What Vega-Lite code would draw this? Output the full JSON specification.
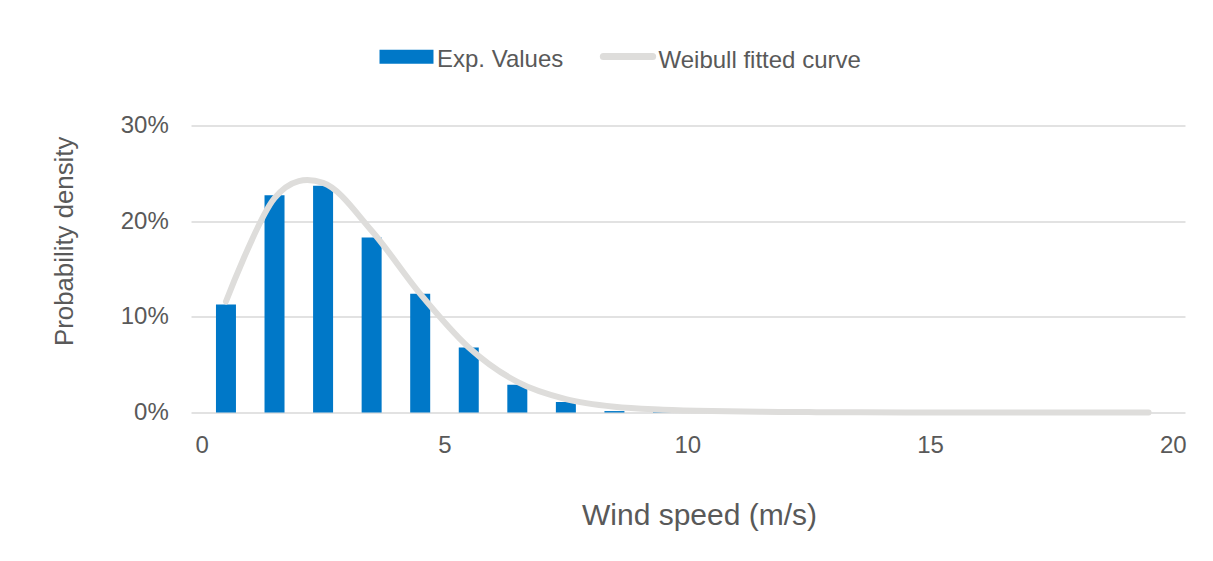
{
  "$schema": "https://vega.github.io/schema/vega-lite/v6.json",
  "width": 994,
  "height": 287,
  "autosize": {"type": "none"},
  "padding": {"left": 191, "top": 125.5, "right": 28, "bottom": 148.5},
  "background": "white",
  "config": {
    "font": "Liberation Sans",
    "view": {"stroke": null},
    "axis": {
      "labelFont": "Liberation Sans",
      "titleFont": "Liberation Sans",
      "labelColor": "#595959",
      "titleColor": "#595959",
      "labelFontSize": 24,
      "titleFontSize": 26.7,
      "titleFontWeight": "normal",
      "domain": false,
      "ticks": false
    },
    "legend": {
      "labelFont": "Liberation Sans",
      "labelFontSize": 24,
      "labelColor": "#595959",
      "labelLimit": 0
    }
  },
  "data": {
    "values": [
      {"speed": 0.5, "exp": 0.113, "weibull": 0.116},
      {"speed": 1.5, "exp": 0.227, "weibull": 0.224},
      {"speed": 2.5, "exp": 0.237, "weibull": 0.240},
      {"speed": 3.5, "exp": 0.183, "weibull": 0.190},
      {"speed": 4.5, "exp": 0.124, "weibull": 0.124},
      {"speed": 5.5, "exp": 0.068, "weibull": 0.068},
      {"speed": 6.5, "exp": 0.029, "weibull": 0.032},
      {"speed": 7.5, "exp": 0.011, "weibull": 0.014},
      {"speed": 8.5, "exp": 0.0015, "weibull": 0.006},
      {"speed": 9.5, "exp": 0.0005, "weibull": 0.003},
      {"speed": 10.5, "exp": 0.0015, "weibull": 0.0015},
      {"speed": 11.5, "exp": 0.0, "weibull": 0.0008},
      {"speed": 12.5, "exp": 0.0, "weibull": 0.0004},
      {"speed": 13.5, "exp": 0.0, "weibull": 0.0002},
      {"speed": 14.5, "exp": 0.0, "weibull": 0.0001},
      {"speed": 15.5, "exp": 0.0, "weibull": 0.0},
      {"speed": 16.5, "exp": 0.0, "weibull": 0.0},
      {"speed": 17.5, "exp": 0.0, "weibull": 0.0},
      {"speed": 18.5, "exp": 0.0, "weibull": 0.0},
      {"speed": 19.5, "exp": 0.0, "weibull": 0.0}
    ]
  },
  "encoding": {
    "x": {
      "field": "speed",
      "type": "quantitative",
      "scale": {"domain": [-0.22, 20.25], "nice": false, "zero": false, "padding": 0},
      "axis": {
        "values": [0, 5, 10, 15, 20],
        "grid": false,
        "labelPadding": 21,
        "title": "Wind speed (m/s)",
        "titleFontSize": 30,
        "titleX": 508,
        "titleY": 112,
        "titleBaseline": "alphabetic",
        "titleAnchor": null
      }
    }
  },
  "layer": [
    {
      "mark": {"type": "bar", "size": 20, "color": "#0078c8"},
      "encoding": {
        "y": {
          "field": "exp",
          "type": "quantitative",
          "scale": {"domain": [0, 0.3], "nice": false},
          "axis": {
            "values": [0, 0.1, 0.2, 0.3],
            "format": ".0%",
            "grid": true,
            "gridColor": "#d9d9d9",
            "gridWidth": 1.6,
            "labelPadding": 22.7,
            "title": "Probability density",
            "titleFontSize": 25.8,
            "titleAngle": -90,
            "titleX": -118.5,
            "titleY": 115.3,
            "titleBaseline": "alphabetic",
            "titleAlign": "center"
          }
        },
        "color": {
          "datum": "Exp. Values",
          "type": "nominal",
          "scale": {"domain": ["Exp. Values", "Weibull fitted curve"], "range": ["#0078c8", "#dedddb"]},
          "legend": {
            "title": null,
            "orient": "none",
            "direction": "horizontal",
            "legendX": 183,
            "legendY": -98,
            "padding": 0,
            "symbolSize": 3364,
            "labelOffset": -2,
            "columnPadding": 24.5,
            "encode": {
              "symbols": {
                "update": {
                  "shape": {"signal": "datum.value === 'Exp. Values' ? 'M-0.81,-0.24H0.81V0H-0.81Z' : 'M-0.85,-0.16H0.85'"},
                  "fill": {"signal": "datum.value === 'Exp. Values' ? '#0078c8' : 'transparent'"},
                  "stroke": {"signal": "datum.value === 'Exp. Values' ? 'transparent' : '#dedddb'"},
                  "strokeWidth": {"value": 7},
                  "strokeCap": {"value": "round"},
                  "opacity": {"value": 1}
                }
              }
            }
          }
        }
      }
    },
    {
      "mark": {"type": "line", "interpolate": "cardinal", "strokeWidth": 6, "strokeCap": "round", "color": "#dedddb"},
      "encoding": {
        "y": {"field": "weibull", "type": "quantitative"},
        "color": {"datum": "Weibull fitted curve", "type": "nominal"}
      }
    }
  ]
}
